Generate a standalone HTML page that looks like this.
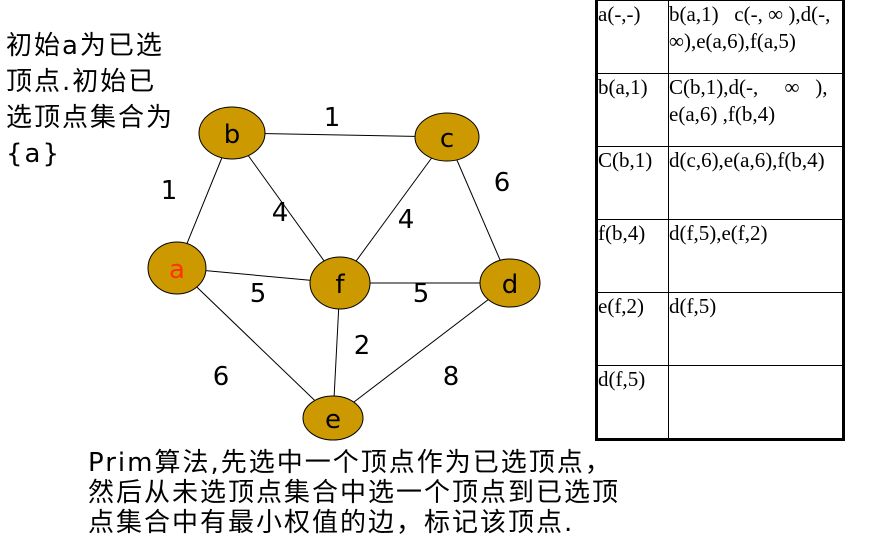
<!DOCTYPE html>
<html><head><meta charset="utf-8"><style>
body{margin:0;width:874px;height:546px;background:#fff;overflow:hidden;position:relative;font-family:"DejaVu Sans","Noto Sans CJK SC",sans-serif}
.t{position:absolute;font-size:26px;line-height:36px;color:#000;letter-spacing:2px;white-space:nowrap}
table{position:absolute;left:595px;top:-2px;border-collapse:collapse;border:3px solid #000}
td{border:1px solid #000;vertical-align:top;padding:0;height:72px;line-height:27px;font-family:"Liberation Serif","Noto Serif CJK SC",serif;font-size:21px;white-space:nowrap;overflow:hidden}
</style></head><body>
<div class="t" style="left:6px;top:28px">初始a为已选<br>顶点.初始已<br>选顶点集合为<br>{a}</div>
<svg width="874" height="546" style="position:absolute;left:0;top:0" font-family="DejaVu Sans" font-size="26">
<g stroke="#000" stroke-width="1">
<line x1="232" y1="133" x2="447" y2="137"/><line x1="232" y1="133" x2="177" y2="268"/><line x1="232" y1="133" x2="340" y2="283"/>
<line x1="447" y1="137" x2="340" y2="283"/><line x1="447" y1="137" x2="510" y2="283"/><line x1="177" y1="268" x2="340" y2="283"/>
<line x1="340" y1="283" x2="510" y2="283"/><line x1="177" y1="268" x2="333" y2="418"/><line x1="340" y1="283" x2="333" y2="418"/>
<line x1="510" y1="283" x2="333" y2="418"/>
</g>
<g fill="#cc9900" stroke="#000" stroke-width="1">
<ellipse cx="232" cy="133" rx="33" ry="26"/><ellipse cx="447" cy="137" rx="32" ry="24"/><ellipse cx="177" cy="268" rx="29" ry="26"/>
<ellipse cx="340" cy="283" rx="30" ry="26"/><ellipse cx="510" cy="283" rx="30" ry="24"/><ellipse cx="333" cy="418" rx="30" ry="22"/>
</g>
<g text-anchor="middle">
<text x="232" y="143">b</text><text x="447" y="147">c</text><text x="177" y="278" fill="#ff3300">a</text>
<text x="340" y="293">f</text><text x="510" y="293">d</text><text x="333" y="428">e</text>
<text x="332" y="126">1</text><text x="169" y="199">1</text><text x="280" y="221">4</text><text x="406" y="228">4</text>
<text x="502" y="191">6</text><text x="258" y="302">5</text><text x="421" y="302">5</text><text x="362" y="354">2</text>
<text x="221" y="385">6</text><text x="451" y="385">8</text>
</g>
</svg>
<div class="t" style="left:88px;top:448px;line-height:30px">Prim算法,先选中一个顶点作为已选顶点，<br>然后从未选顶点集合中选一个顶点到已选顶<br>点集合中有最小权值的边，标记该顶点.</div>
<table>
<tr><td style="width:70px;max-width:70px">a(-,-)</td><td style="width:173px;max-width:173px">b(a,1)&nbsp;&nbsp; c(-, ∞ ),d(-,<br>∞),e(a,6),f(a,5)</td></tr>
<tr><td>b(a,1)</td><td>C(b,1),d(-,&nbsp;&nbsp;&nbsp;&nbsp; ∞&nbsp;&nbsp; ),<br>e(a,6) ,f(b,4)</td></tr>
<tr><td>C(b,1)</td><td>d(c,6),e(a,6),f(b,4)</td></tr>
<tr><td>f(b,4)</td><td>d(f,5),e(f,2)</td></tr>
<tr><td>e(f,2)</td><td>d(f,5)</td></tr>
<tr><td>d(f,5)</td><td></td></tr>
</table>
</body></html>
